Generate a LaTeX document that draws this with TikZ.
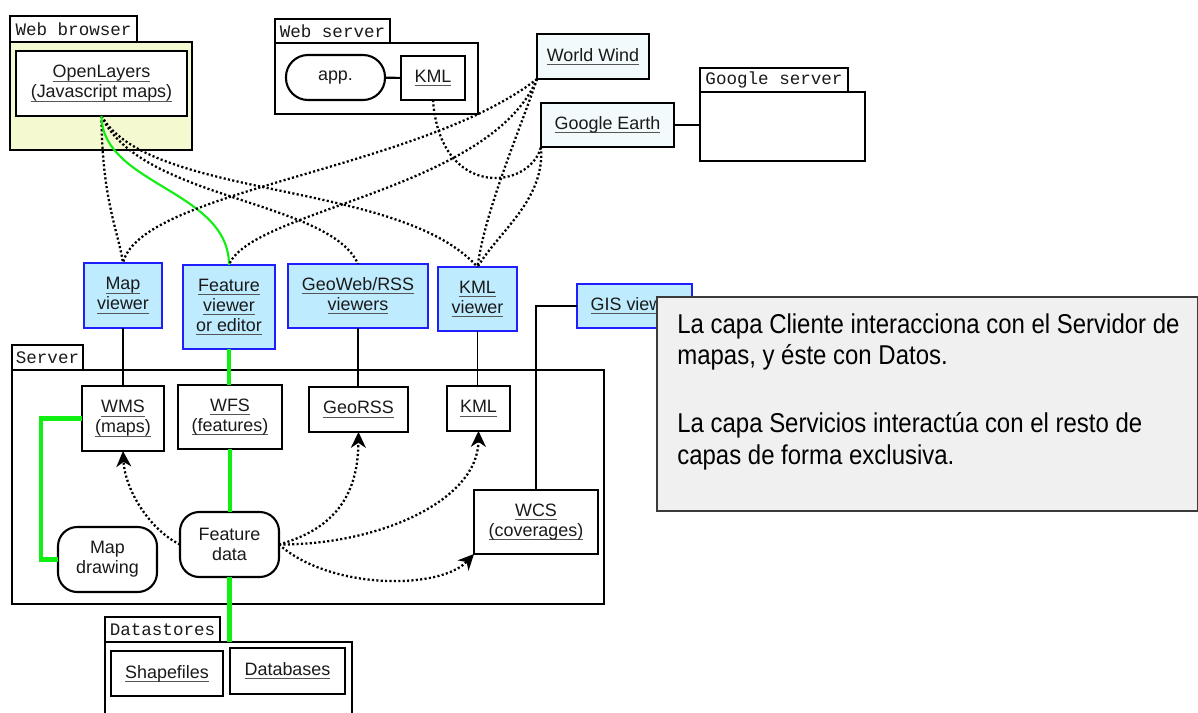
\documentclass[tikz,border=0pt]{standalone}
\usepackage{fontspec}
\setmainfont{Liberation Sans}
\newfontfamily\tabfont{Liberation Mono}
\newfontfamily\notefont[FakeStretch=0.88]{Liberation Sans}
\usetikzlibrary{arrows.meta}

\definecolor{txt}{HTML}{1A1A1A}
\definecolor{ulgray}{HTML}{555555}
\definecolor{bfill}{HTML}{F5F9CF}
\definecolor{vfill}{HTML}{BFEBFF}
\definecolor{vborder}{HTML}{1E1EFF}
\definecolor{cfill}{HTML}{F2FAFC}
\definecolor{lgreen}{HTML}{11EE11}
\definecolor{notefill}{HTML}{F0F0F0}
\definecolor{noteborder}{HTML}{3A3A3A}

% hyperlink-style underlined label
\newcommand\lnk[1]{\setbox0=\hbox{#1}\rlap{\color{ulgray}\rule[-2.2pt]{\wd0}{0.6pt}}\box0}

\begin{document}
\begin{tikzpicture}[x=0.02cm, y=-0.02cm,
  sz/.style 2 args={minimum width=#1*0.02cm, minimum height=#2*0.02cm},
  base/.style={inner sep=0pt, outer sep=0pt, text=txt, align=center,
    font=\fontsize{10.2}{11.4}\selectfont},
  frame/.style={base, draw=black, line width=1.2pt, fill=white, anchor=north west},
  tab/.style={frame, font=\tabfont\fontsize{10}{12}\selectfont},
  viewer/.style={base, draw=vborder, line width=1.2pt, fill=vfill, anchor=north west},
  client/.style={frame, fill=cfill},
  roundbox/.style={frame, rounded corners=11pt},
  link/.style={draw=black, line width=0.9pt},
  dots/.style={draw=black, line width=1.3pt, dash pattern=on 1.2pt off 1.3pt},
  tip/.style={-{Stealth[length=9pt, width=8.5pt, inset=2.8pt]}},
  gthin/.style={draw=lgreen, line width=1.2pt},
  gthick/.style={draw=lgreen, line width=2.3pt},
]
\useasboundingbox (0,0) rectangle (1198,713);
\fill[white] (0,0) rectangle (1198,713);

% ---- web browser
\node[tab, sz={127}{26}] (wbtab) at (10,16) {Web browser};
\node[frame, fill=bfill, sz={182}{108}] (wb) at (10,42) {};
\node[frame, sz={171}{65}] (ol) at (16,51) {\lnk{OpenLayers}\\\lnk{(Javascript maps)}};

% ---- web server
\node[tab, sz={115}{24}] (wstab) at (275,19) {Web server};
\node[frame, sz={203}{71}] (ws) at (275,43) {};
\node[roundbox, rounded corners=12.5pt, sz={99}{45}] (app) at (286,55) {app.};
\node[frame, sz={64}{44}] (wkml) at (401,56) {\lnk{KML}};

% ---- desktop clients
\node[client, sz={112}{45}] (ww) at (537,34) {\lnk{World Wind}};
\node[client, sz={133}{44}] (ge) at (541,103) {\lnk{Google Earth}};

% ---- google server
\node[tab, sz={148}{24}] (gstab) at (700,68) {Google server};
\node[frame, sz={165}{69}] (gs) at (700,92) {};

% ---- viewers
\node[viewer, sz={78}{65}] (mv) at (84,263) {\lnk{Map}\\\lnk{viewer}};
\node[viewer, sz={92}{84}] (fv) at (183,265) {\lnk{Feature}\\\lnk{viewer}\\\lnk{or editor}};
\node[viewer, sz={140}{64}] (gw) at (288,264) {\lnk{GeoWeb/RSS}\\\lnk{viewers}};
\node[viewer, sz={79}{64}] (kv) at (438,267) {\lnk{KML}\\\lnk{viewer}};
\node[viewer, sz={115}{44}] (gis) at (577,284) {\lnk{GIS viewer}};

% ---- server
\node[tab, sz={71}{25}] (srvtab) at (12,345) {Server};
\node[frame, sz={592}{234}] (srv) at (12,370) {};
\node[frame, sz={82}{65}] (wms) at (82,386) {\lnk{WMS}\\\lnk{(maps)}};
\node[frame, sz={104}{64}] (wfs) at (178,385) {\lnk{WFS}\\\lnk{(features)}};
\node[frame, sz={99}{45}] (georss) at (309,387) {\lnk{GeoRSS}};
\node[frame, sz={63}{45}] (skml) at (447,386) {\lnk{KML}};
\node[frame, sz={124}{64}] (wcs) at (474,490) {\lnk{WCS}\\\lnk{(coverages)}};
\node[roundbox, sz={99}{65}] (md) at (58,527) {Map\\drawing};
\node[roundbox, sz={99}{65}] (fd) at (180,512) {Feature\\data};

% ---- datastores
\node[tab, sz={115}{25}] (dstab) at (105,617) {Datastores};
\node[frame, sz={247}{90}] (ds) at (105,642) {};
\node[frame, sz={112}{45}] (shp) at (111,651) {\lnk{Shapefiles}};
\node[frame, sz={115}{46}] (db) at (230,648) {\lnk{Databases}};

% ---- client links (top)
\draw[dots] (ol.south) .. controls (102,200) and (118,230) .. (mv.north);
\draw[dots] (ol.south) .. controls (140,200) and (330,200) .. (gw.north);
\draw[dots] (ol.south) .. controls (150,200) and (400,180) .. (kv.north);
\draw[gthin] (ol.south) .. controls (102,185) and (229,190) .. (fv.north);
\draw[dots] (ww.south west) .. controls (420,170) and (140,190) .. (mv.north);
\draw[dots] (ww.south west) .. controls (490,190) and (250,210) .. (fv.north);
\draw[dots] (ww.south west) .. controls (520,130) and (485,210) .. (kv.north);
\draw[dots] (ge.south west) .. controls (545,200) and (500,230) .. (kv.north);
\draw[dots] (wkml.south) .. controls (440,200) and (530,190) .. (ge.south west);
\draw[link, line width=1.2pt] (app) -- (wkml);
\draw[link, line width=1.2pt] (ge.east) -- (ge.east -| gs.west);

% ---- viewer to service links
\draw[link] (mv.south) -- (mv.south |- wms.north);
\draw[link] (gw.south) -- (gw.south |- georss.north);
\draw[link] (kv.south) -- (kv.south |- skml.north);
\draw[link] (gis.west) -| (wcs.north);
\draw[gthick] (fv.south) -- (fv.south |- wfs.north);
\draw[gthick] (wfs.south) -- (wfs.south |- fd.north);
\draw[gthick] (fd.south) -- (fd.south |- ds.north);
\draw[gthick] (wms.west) -- ++(-41,0) |- (md.west);

% ---- feature data to services
\draw[dots, tip] (fd.west) .. controls (150,530) and (125,490) .. (wms.south);
\draw[dots, tip] (fd.east) .. controls (330,530) and (358,500) .. (georss.south);
\draw[dots, tip] (fd.east) .. controls (380,545) and (478,500) .. (skml.south);
\draw[dots, tip] (fd.east) .. controls (330,590) and (440,590) .. (wcs.south west);

% ---- note
\node[draw=noteborder, line width=1.1pt, fill=notefill, anchor=north west,
  inner sep=0pt, sz={541}{214}] (note) at (656,296) {};
\node[anchor=north west, inner sep=0pt, align=left, text=black,
  font=\notefont\fontsize{15.5}{18.1}\selectfont] (notetxt) at (677,313)
  {La capa Cliente interacciona con el Servidor de\\
   mapas, y éste con Datos.\\[20.3pt]
   La capa Servicios interactúa con el resto de\\
   capas de forma exclusiva.};
\end{tikzpicture}
\end{document}
